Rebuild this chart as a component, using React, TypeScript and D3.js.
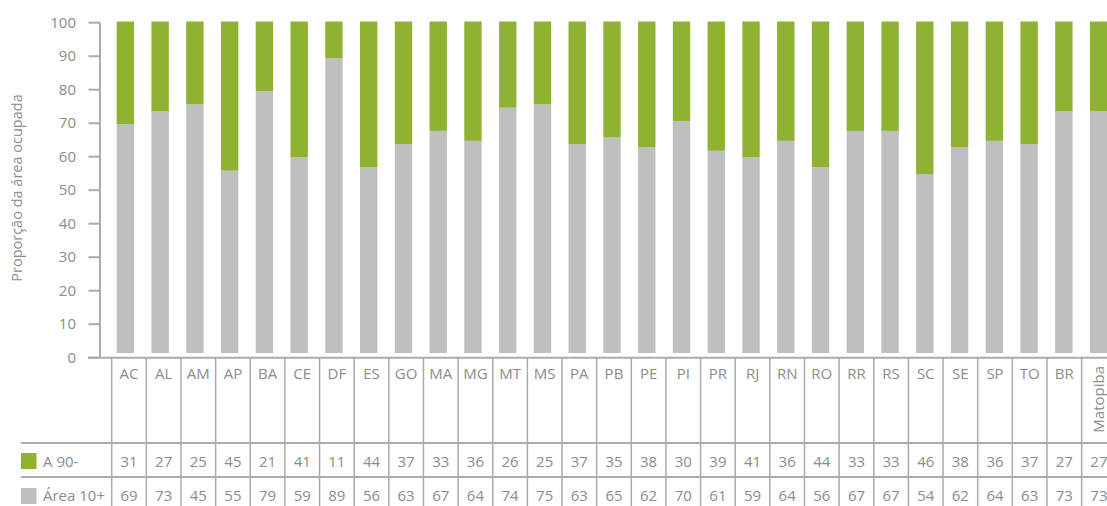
import React from "react";
import * as d3 from "d3";

const categories = [
  "AC", "AL", "AM", "AP", "BA", "CE", "DF", "ES", "GO", "MA", "MG", "MT", "MS", "PA", "PB",
  "PE", "PI", "PR", "RJ", "RN", "RO", "RR", "RS", "SC", "SE", "SP", "TO", "BR", "Matopiba",
];
// table row "A 90-"
const a90 = [31, 27, 25, 45, 21, 41, 11, 44, 37, 33, 36, 26, 25, 37, 35, 38, 30, 39, 41, 36, 44, 33, 33, 46, 38, 36, 37, 27, 27];
// table row "Área 10+"
const area10 = [69, 73, 45, 55, 79, 59, 89, 56, 63, 67, 64, 74, 75, 63, 65, 62, 70, 61, 59, 64, 56, 67, 67, 54, 62, 64, 63, 73, 73];
const yTicks = [0, 10, 20, 30, 40, 50, 60, 70, 80, 90, 100];

const GREEN = "#8fb232";
const GRAY = "#bfbfbf";
const LINE = "#ababab";
const TEXT = "#8c8c8c";
const FONT = "'Open Sans', sans-serif";
const FS = 15;

const App = () => {
  const width = 1107;
  const height = 506;

  const y = d3.scaleLinear().domain([0, 100]).range([357.7, 22.7]);
  const yBar = d3.scaleLinear().domain([0, 100]).range([353, 21.5]);

  const xBar = d3
    .scaleBand()
    .domain(categories)
    .range([108, 1116])
    .paddingInner(0.5)
    .paddingOuter(0.25);

  const xCol = d3.scaleBand().domain(categories).range([111.7, 111.7 + 29 * 34.64]);

  const rowTop1 = 443;
  const rowTop2 = 477;
  const axisY = y(0);

  return (
    <svg
      width={width}
      height={height}
      style={{ position: "absolute", left: 0, top: 0, fontFamily: FONT }}
    >
      {/* bars */}
      {categories.map((c, i) => {
        const gray = 100 - a90[i];
        return (
          <g key={c}>
            <rect x={xBar(c)} width={xBar.bandwidth()} y={yBar(gray)} height={yBar(0) - yBar(gray)} fill={GRAY} />
            <rect x={xBar(c)} width={xBar.bandwidth()} y={yBar(100)} height={yBar(gray) - yBar(100)} fill={GREEN} />
          </g>
        );
      })}

      {/* y axis */}
      <line x1={100} x2={100} y1={y(100)} y2={axisY} stroke={LINE} strokeWidth={2} />
      {yTicks.map((t) => (
        <g key={t}>
          <line x1={88.5} x2={100} y1={y(t)} y2={y(t)} stroke={LINE} strokeWidth={2} />
          <text x={76} y={y(t)} dy="0.35em" textAnchor="end" fontSize={FS} fill={TEXT}>
            {t}
          </text>
        </g>
      ))}
      <text
        transform={`translate(22,188) rotate(-90)`}
        textAnchor="middle"
        fontSize={14.5}
        fill={TEXT}
      >
        Proporção da área ocupada
      </text>

      {/* table lines */}
      <line x1={88} x2={width} y1={axisY} y2={axisY} stroke={LINE} strokeWidth={2} />
      <line x1={21} x2={width} y1={rowTop1} y2={rowTop1} stroke={LINE} strokeWidth={2} />
      <line x1={21} x2={width} y1={rowTop2} y2={rowTop2} stroke={LINE} strokeWidth={2} />
      {categories.map((c) => (
        <line key={c} x1={xCol(c)} x2={xCol(c)} y1={axisY} y2={height} stroke={LINE} strokeWidth={1.5} />
      ))}

      {/* header labels */}
      {categories.map((c) => {
        const cx = (xCol(c) as number) + xCol.bandwidth() / 2;
        if (c === "Matopiba") {
          return (
            <text key={c} transform={`translate(${cx + 5},366) rotate(-90)`} textAnchor="end" fontSize={FS} fill={TEXT}>
              {c}
            </text>
          );
        }
        return (
          <text key={c} x={cx} y={373.5} dy="0.35em" textAnchor="middle" fontSize={FS} fill={TEXT}>
            {c}
          </text>
        );
      })}

      {/* value rows */}
      {categories.map((c, i) => {
        const cx = (xCol(c) as number) + xCol.bandwidth() / 2;
        return (
          <g key={c}>
            <text x={cx} y={461.5} dy="0.35em" textAnchor="middle" fontSize={FS} fill={TEXT}>
              {a90[i]}
            </text>
            <text x={cx} y={496} dy="0.35em" textAnchor="middle" fontSize={FS} fill={TEXT}>
              {area10[i]}
            </text>
          </g>
        );
      })}

      {/* legend */}
      <rect x={21} y={453} width={15.5} height={16} fill={GREEN} />
      <text x={43} y={461.5} dy="0.35em" fontSize={FS} fill={TEXT}>
        A 90-
      </text>
      <rect x={21} y={488} width={15.5} height={16} fill={GRAY} />
      <text x={43} y={496} dy="0.35em" fontSize={FS} fill={TEXT}>
        Área 10+
      </text>
    </svg>
  );
};

export default App;
